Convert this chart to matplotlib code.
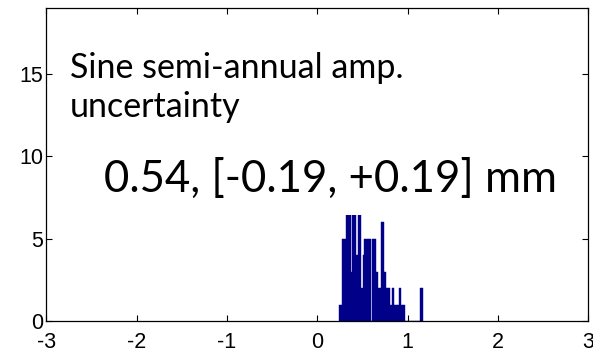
import matplotlib
matplotlib.use("Agg")
import matplotlib.pyplot as plt
import numpy as np
from matplotlib.patches import Rectangle

plt.rcParams["axes.unicode_minus"] = False

# Histogram data (bin counts)
bin_start = 0.243
bin_width = 0.0145
counts = [1, 1, 5, 5, 5, 8, 9, 10, 9, 3, 8, 11, 9, 4, 8, 7, 7, 2, 4, 5,
          5, 5, 5, 5, 0, 5, 5, 5, 3, 3, 2, 2, 6, 6, 3, 3, 2, 2, 2, 1,
          2, 2, 1, 1, 1, 1, 2, 1, 1, 1, 0, 0, 0, 0, 0, 0, 0, 0, 0, 0,
          0, 0, 2, 2]

xticks = [-3, -2, -1, 0, 1, 2, 3]
yticks = [0, 5, 10, 15]
xlim = (-3, 3)
ylim = (0, 19)

title_lines = ["Sine semi-annual amp.", "uncertainty"]
value_text = "0.54, [-0.19, +0.19] mm"

fig = plt.figure(figsize=(5.93, 3.55), dpi=100)
ax = fig.add_axes([0.0784, 0.0958, 0.9132, 0.8817])

edges = bin_start + bin_width * np.arange(len(counts) + 1)
ax.bar(edges[:-1], counts, width=bin_width, align="edge",
       color="#000088", edgecolor="#000088", linewidth=0.3, zorder=1)

# white text box of the slide overlay hiding the bar tops
ax.add_patch(Rectangle((0, 6.44 / ylim[1]), 1, 1 - 6.44 / ylim[1],
                       transform=ax.transAxes, facecolor="white",
                       edgecolor="none", zorder=1.5))

ax.set_xlim(*xlim)
ax.set_ylim(*ylim)
ax.set_xticks(xticks)
ax.set_yticks(yticks)
ax.tick_params(direction="in", top=True, right=True, length=4, width=0.8,
               labelsize=15.5)
ax.tick_params(axis="x", pad=8)
ax.tick_params(axis="y", pad=2.5)
for lab in ax.get_xticklabels() + ax.get_yticklabels():
    lab.set_fontfamily("Liberation Sans")
for s in ax.spines.values():
    s.set_linewidth(0.9)
    s.set_color("black")

fig.text(70 / 593, 1 - 78 / 355, title_lines[0], fontsize=24.5,
         family="Lato", va="baseline", ha="left")
fig.text(70 / 593, 1 - 117 / 355, title_lines[1], fontsize=24.5,
         family="Lato", va="baseline", ha="left")
fig.text(104 / 593, 1 - 192 / 355, value_text, fontsize=31.5,
         family="Lato", va="baseline", ha="left")

fig.savefig("out.png", dpi=100)
